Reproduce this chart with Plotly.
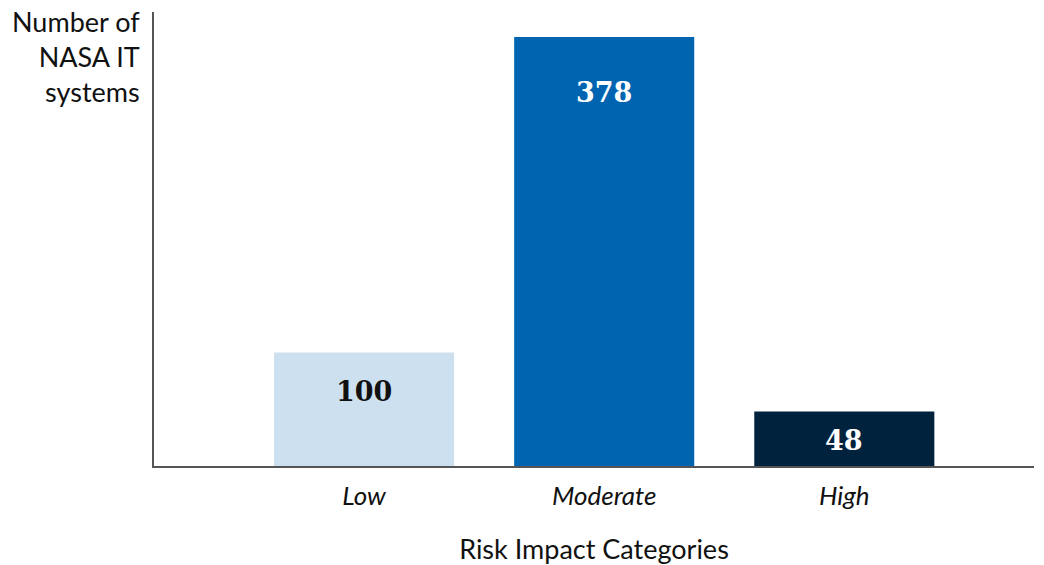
import plotly.graph_objects as go

categories = ["Low", "Moderate", "High"]
values = [100, 378, 48]
colors = ["#cde0ef", "#0064b1", "#01223d"]
label_colors = ["#111111", "#ffffff", "#ffffff"]
label_shifts = [-39, -56, -29]

fig = go.Figure()
fig.add_trace(go.Bar(
    x=list(range(len(categories))),
    y=values,
    width=0.75,
    marker=dict(color=colors, line=dict(width=0)),
    hoverinfo="skip",
))

for i, (v, c, s) in enumerate(zip(values, label_colors, label_shifts)):
    fig.add_annotation(
        x=i, y=v, yshift=s, text=f"<b>{v}</b>", showarrow=False,
        xanchor="center", yanchor="middle",
        font=dict(family="DejaVu Serif", size=27, color=c),
    )

fig.add_annotation(
    xref="x domain", yref="y domain", x=-12/880, y=1.0 + 9/454,
    text="Number of<br>NASA IT<br>systems",
    showarrow=False, xanchor="right", yanchor="top", align="right",
    font=dict(family="Lato", size=27, color="#111111"),
)

fig.update_layout(
    width=1044, height=565,
    margin=dict(l=154, r=10, t=12, b=99),
    paper_bgcolor="white", plot_bgcolor="white",
    showlegend=False,
    xaxis=dict(
        range=[-0.875, 2.79], automargin=False,
        tickmode="array", tickvals=list(range(len(categories))), ticktext=categories,
        tickfont=dict(family="Lato", size=26, color="#111111", style="italic"),
        ticklabelstandoff=6,
        showline=True, linecolor="#555555", linewidth=1.5,
        showgrid=False, zeroline=False, ticks="", ticklen=0,
        title=dict(text="Risk Impact Categories", font=dict(family="Lato", size=27, color="#111111"), standoff=30),
    ),
    yaxis=dict(
        range=[0, 400], showticklabels=False, showline=True, linecolor="#555555", linewidth=1.5,
        showgrid=False, zeroline=False, ticks="", automargin=False,
    ),
)

fig.write_html("out.html")
